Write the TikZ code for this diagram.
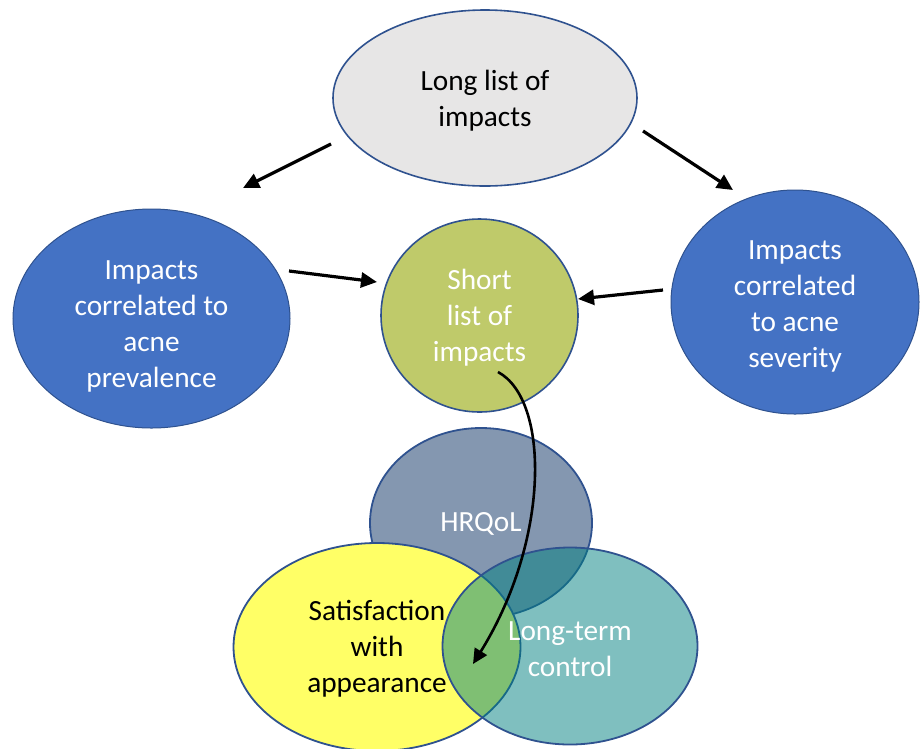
\documentclass[tikz,border=0pt]{standalone}
\usepackage{fontspec}
\setmainfont{Carlito}
\usetikzlibrary{shapes.geometric,arrows.meta}
\definecolor{edge}{HTML}{2F528F}
\definecolor{greyfill}{HTML}{E7E6E6}
\definecolor{bluefill}{HTML}{4472C4}
\definecolor{olivefill}{HTML}{BFCA6A}
\definecolor{slatefill}{HTML}{8497B0}
\definecolor{yellowfill}{HTML}{FFFF66}
\definecolor{tealfill}{HTML}{008080}
\newcommand{\bubblefont}{\fontsize{29.3}{36}\selectfont}
\tikzset{
  bubble/.style={ellipse, draw=edge, inner sep=0pt},
  caption/.style={inner sep=0pt, align=center, font=\bubblefont},
  thickarrow/.style={-{Triangle[length=16pt,width=15pt]}, line width=3.2pt, black},
  curvearrow/.style={-{Triangle[length=15pt,width=14pt]}, line width=2.6pt, black},
}
\begin{document}
\begin{tikzpicture}[x=1pt,y=-1pt]
  \useasboundingbox[fill=white] (0,0) rectangle (920,748);

  % main flow
  \node[bubble, fill=greyfill, line width=1.6pt, minimum width=304pt, minimum height=176pt]
    (top) at (485,98) {};
  \node[caption] (top-t) at ([yshift=-3pt]top.center) {Long list of\\impacts};

  \node[bubble, fill=bluefill, line width=1pt, minimum width=277pt, minimum height=219pt]
    (prev) at (151.5,318.5) {};
  \node[caption, text=white] (prev-t) at ([yshift=-8pt]prev.center)
    {Impacts\\correlated to\\acne\\prevalence};

  \node[bubble, fill=bluefill, line width=1pt, minimum width=248pt, minimum height=224pt]
    (sev) at (795,302) {};
  \node[caption, text=white] (sev-t) at ([yshift=-4pt]sev.center)
    {Impacts\\correlated\\to acne\\severity};

  \node[bubble, fill=olivefill, line width=1.6pt, minimum width=197pt, minimum height=193pt]
    (short) at (479.5,315.5) {};
  \node[caption, text=white] (short-t) at ([yshift=-2pt]short.center) {Short\\list of\\impacts};

  % outcome domains
  \node[bubble, fill=slatefill, line width=1.8pt, minimum width=222pt, minimum height=190pt]
    (hrqol) at (481,523) {};
  \node[caption, text=white] (hrqol-t) at ([yshift=-1pt]hrqol.center) {HRQoL};

  \node[bubble, fill=yellowfill, line width=1.8pt, minimum width=287pt, minimum height=208pt]
    (satis) at (377,647) {};
  \node[caption] (satis-t) at ([yshift=-2pt]satis.center) {Satisfaction\\with\\appearance};

  \node[bubble, fill=tealfill, fill opacity=0.5, line width=1.8pt,
        minimum width=255pt, minimum height=197pt]
    (ltc) at (570,646) {};
  \node[caption, text=white] (ltc-t) at ([yshift=-3pt]ltc.center) {Long-term\\control};

  % arrow end points
  \coordinate (tl0) at (331,144);  \coordinate (tl1) at (243,188);
  \coordinate (tr0) at (643,131);  \coordinate (tr1) at (733,190);
  \coordinate (ml0) at (289,271);  \coordinate (ml1) at (377,282);
  \coordinate (mr0) at (663,290);  \coordinate (mr1) at (578,299);
  \coordinate (cv0) at (498,372);  \coordinate (cv1) at (473,664);

  \draw[thickarrow] (tl0) -- (tl1);
  \draw[thickarrow] (tr0) -- (tr1);
  \draw[thickarrow] (ml0) -- (ml1);
  \draw[thickarrow] (mr0) -- (mr1);
  \draw[curvearrow] (cv0) .. controls (550,400) and (550,540) .. (cv1);
\end{tikzpicture}
\end{document}
